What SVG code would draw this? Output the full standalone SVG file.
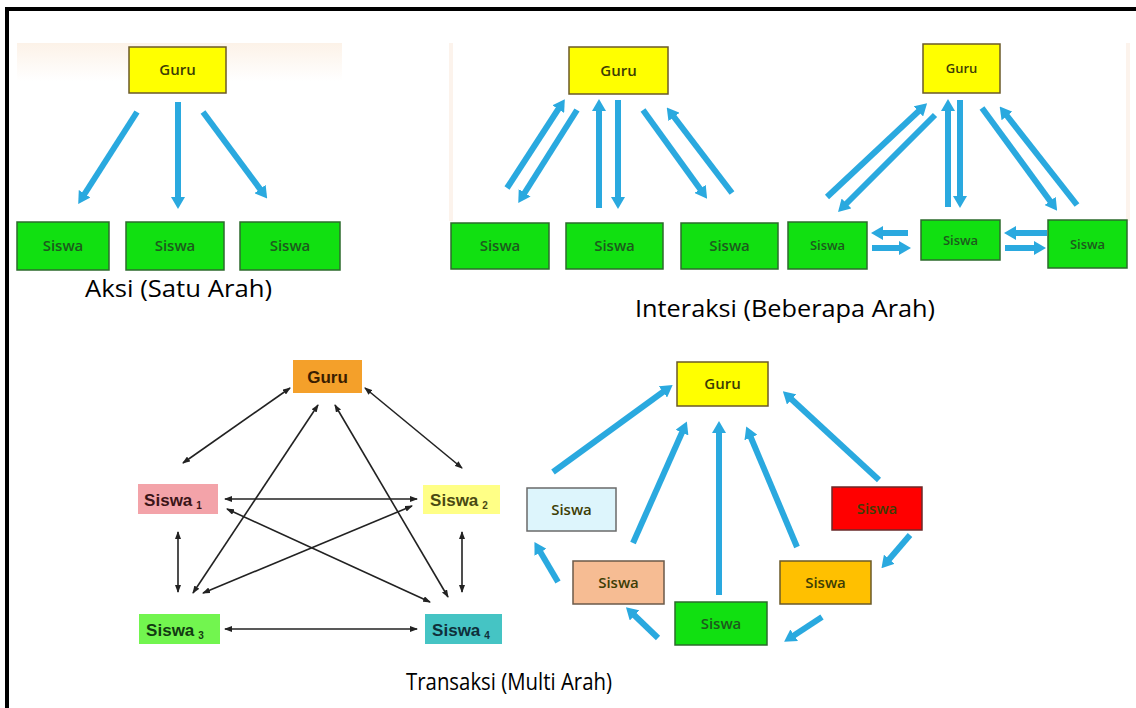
<svg xmlns="http://www.w3.org/2000/svg" width="1136" height="708" viewBox="0 0 1136 708">
<defs>
<style>
.blue{stroke:#2aa9df;stroke-width:6;fill:none;marker-end:url(#bh)}
.blk{stroke:#222;stroke-width:1.6;fill:none;marker-start:url(#kh);marker-end:url(#kh)}
.yel{fill:#ffff00;stroke:#6b5a28;stroke-width:1.5}
.grn{fill:#11e011;stroke:#2c6b2c;stroke-width:1.5}
.tg{font-family:"Open Sans","Liberation Sans",sans-serif;font-size:15px;font-weight:600;fill:#3d3d05;text-anchor:middle}
.ts{font-family:"Open Sans","Liberation Sans",sans-serif;font-size:15px;font-weight:600;fill:#1d5a1d;text-anchor:middle}
.tb{font-family:"Liberation Sans",Arial,sans-serif;font-size:17px;font-weight:bold;text-anchor:middle}
.lab{font-family:"Open Sans","Liberation Sans",sans-serif;font-size:24px;fill:#000}
</style>
<marker id="bh" viewBox="0 0 12 14" refX="5" refY="7" markerWidth="12" markerHeight="14" markerUnits="userSpaceOnUse" orient="auto">
<path d="M0,0 L12,7 L0,14 Z" fill="#2aa9df"/>
</marker>
<marker id="kh" viewBox="0 0 8 6" refX="7" refY="3" markerWidth="8" markerHeight="6" markerUnits="userSpaceOnUse" orient="auto-start-reverse">
<path d="M0,0 L8,3 L0,6 Z" fill="#222"/>
</marker>
<linearGradient id="pg" x1="0" y1="0" x2="0" y2="1">
<stop offset="0" stop-color="#fcf2e8"/>
<stop offset="1" stop-color="#ffffff"/>
</linearGradient>
</defs>
<rect width="1136" height="708" fill="#fff"/>
<rect x="5" y="7" width="1131" height="4" fill="#000"/>
<rect x="5" y="7" width="4" height="701" fill="#000"/>

<g id="panel-bg">
<rect x="17" y="43" width="325" height="38" fill="url(#pg)"/>
<rect x="449" y="43" width="4" height="178" fill="#fcf3ec"/>
<rect x="1126" y="43" width="4" height="178" fill="#fcf3ec"/>
</g>

<g id="connectors">
<!-- Aksi -->
<line class="blue" x1="137" y1="112" x2="82" y2="198"/>
<line class="blue" x1="178" y1="102" x2="178" y2="202"/>
<line class="blue" x1="203" y1="112" x2="263" y2="193"/>
<!-- Interaksi 1 -->
<line class="blue" x1="507" y1="188" x2="561" y2="105"/>
<line class="blue" x1="577" y1="110" x2="522" y2="197"/>
<line class="blue" x1="599" y1="208" x2="599" y2="106"/>
<line class="blue" x1="618" y1="100" x2="618" y2="202"/>
<line class="blue" x1="643" y1="110" x2="703" y2="193"/>
<line class="blue" x1="732" y1="193" x2="671" y2="113"/>
<!-- Interaksi 2 -->
<line class="blue" x1="827" y1="197" x2="922" y2="108"/>
<line class="blue" x1="935" y1="115" x2="843" y2="207"/>
<line class="blue" x1="948" y1="207" x2="948" y2="106"/>
<line class="blue" x1="960" y1="100" x2="960" y2="201"/>
<line class="blue" x1="982" y1="108" x2="1053" y2="205"/>
<line class="blue" x1="1077" y1="205" x2="1004" y2="112"/>
<line class="blue" x1="908" y1="233" x2="878" y2="233"/>
<line class="blue" x1="872" y1="248" x2="904" y2="248"/>
<line class="blue" x1="1047" y1="233" x2="1011" y2="233"/>
<line class="blue" x1="1005" y1="248" x2="1039" y2="248"/>
<!-- Transaksi black -->
<line class="blk" x1="290" y1="388" x2="183" y2="463"/>
<line class="blk" x1="365" y1="388" x2="462" y2="468"/>
<line class="blk" x1="318" y1="405" x2="193" y2="593"/>
<line class="blk" x1="335" y1="405" x2="448" y2="597"/>
<line class="blk" x1="225" y1="499" x2="417" y2="499"/>
<line class="blk" x1="227" y1="509" x2="430" y2="602"/>
<line class="blk" x1="412" y1="506" x2="203" y2="593"/>
<line class="blk" x1="178" y1="532" x2="178" y2="592"/>
<line class="blk" x1="462" y1="532" x2="462" y2="592"/>
<line class="blk" x1="225" y1="629" x2="417" y2="629"/>
<!-- Transaksi blue -->
<line class="blue" x1="553" y1="472" x2="667" y2="389"/>
<line class="blue" x1="633" y1="543" x2="684" y2="428"/>
<line class="blue" x1="719" y1="595" x2="719" y2="428"/>
<line class="blue" x1="797" y1="547" x2="749" y2="433"/>
<line class="blue" x1="879" y1="480" x2="788" y2="396"/>
<line class="blue" x1="910" y1="535" x2="886" y2="563"/>
<line class="blue" x1="822" y1="617" x2="790" y2="638"/>
<line class="blue" x1="658" y1="638" x2="631" y2="612"/>
<line class="blue" x1="558" y1="582" x2="538" y2="548"/>
</g>

<!-- Aksi nodes -->
<g id="aksi-guru"><rect class="yel" x="129" y="47" width="97" height="46"/><text class="tg" x="177.5" y="75">Guru</text></g>
<g id="aksi-siswa1"><rect class="grn" x="17" y="222" width="92" height="48"/><text class="ts" x="63" y="251">Siswa</text></g>
<g id="aksi-siswa2"><rect class="grn" x="126" y="222" width="98" height="48"/><text class="ts" x="175" y="251">Siswa</text></g>
<g id="aksi-siswa3"><rect class="grn" x="240" y="222" width="100" height="48"/><text class="ts" x="290" y="251">Siswa</text></g>

<!-- Interaksi 1 nodes -->
<g id="int1-guru"><rect class="yel" x="569" y="47" width="99" height="47"/><text class="tg" x="618.5" y="76">Guru</text></g>
<g id="int1-siswa1"><rect class="grn" x="451" y="223" width="98" height="46"/><text class="ts" x="500" y="251">Siswa</text></g>
<g id="int1-siswa2"><rect class="grn" x="566" y="223" width="97" height="46"/><text class="ts" x="614.5" y="251">Siswa</text></g>
<g id="int1-siswa3"><rect class="grn" x="681" y="223" width="97" height="46"/><text class="ts" x="729.5" y="251">Siswa</text></g>

<!-- Interaksi 2 nodes -->
<g id="int2-guru"><rect class="yel" x="923" y="44" width="77" height="49"/><text class="tg" x="961.5" y="73" style="font-size:13px">Guru</text></g>
<g id="int2-siswa1"><rect class="grn" x="788" y="222" width="79" height="47"/><text class="ts" x="827.5" y="250" style="font-size:13px">Siswa</text></g>
<g id="int2-siswa2"><rect class="grn" x="921" y="220" width="79" height="40"/><text class="ts" x="960.5" y="245" style="font-size:13px">Siswa</text></g>
<g id="int2-siswa3"><rect class="grn" x="1048" y="220" width="79" height="48"/><text class="ts" x="1087.5" y="249" style="font-size:13px">Siswa</text></g>

<!-- Transaksi 1 nodes -->
<g id="tr1-guru"><rect x="293" y="360" width="69" height="33" fill="#f4a02a"/><text class="tb" x="327.5" y="383" fill="#3a1d00">Guru</text></g>
<g id="tr1-siswa1"><rect x="138" y="484" width="80" height="30" fill="#f3a3a9"/><text class="tb" x="173" y="506" fill="#3b1518">Siswa<tspan font-size="10" dx="4" dy="3">1</tspan></text></g>
<g id="tr1-siswa2"><rect x="423" y="485" width="77" height="29" fill="#ffff86"/><text class="tb" x="459" y="506" fill="#4a4a12">Siswa<tspan font-size="10" dx="4" dy="3">2</tspan></text></g>
<g id="tr1-siswa3"><rect x="139" y="614" width="81" height="30" fill="#72f54f"/><text class="tb" x="175" y="636" fill="#123b12">Siswa<tspan font-size="10" dx="4" dy="3">3</tspan></text></g>
<g id="tr1-siswa4"><rect x="425" y="614" width="77" height="30" fill="#45c4c4"/><text class="tb" x="461" y="636" fill="#0f2f3a">Siswa<tspan font-size="10" dx="4" dy="3">4</tspan></text></g>

<!-- Transaksi 2 nodes -->
<g id="tr2-guru"><rect class="yel" x="677" y="362" width="91" height="44"/><text class="tg" x="722.5" y="389">Guru</text></g>
<g id="tr2-siswa-lightblue"><rect x="527" y="488" width="89" height="43" fill="#ddf5fc" stroke="#6a6a6a" stroke-width="1.5"/><text class="tg" x="571.5" y="515" fill="#333">Siswa</text></g>
<g id="tr2-siswa-red"><rect x="832" y="487" width="90" height="43" fill="#ff0000" stroke="#6a2a2a" stroke-width="1.5"/><text class="tg" x="877" y="514" fill="#7a0000">Siswa</text></g>
<g id="tr2-siswa-peach"><rect x="573" y="561" width="91" height="43" fill="#f6bc93" stroke="#6b5a4a" stroke-width="1.5"/><text class="tg" x="618.5" y="588" fill="#3a2510">Siswa</text></g>
<g id="tr2-siswa-orange"><rect x="780" y="561" width="91" height="43" fill="#ffc000" stroke="#6b5a28" stroke-width="1.5"/><text class="tg" x="825.5" y="588" fill="#3a2c00">Siswa</text></g>
<g id="tr2-siswa-green"><rect class="grn" x="675" y="602" width="92" height="43"/><text class="ts" x="721" y="629">Siswa</text></g>

<g id="labels">
<text class="lab" x="85" y="297" textLength="187" lengthAdjust="spacingAndGlyphs">Aksi (Satu Arah)</text>
<text class="lab" x="635" y="317" textLength="300" lengthAdjust="spacingAndGlyphs">Interaksi (Beberapa Arah)</text>
<text class="lab" x="406" y="690" textLength="206" lengthAdjust="spacingAndGlyphs">Transaksi (Multi Arah)</text>
</g>
</svg>
